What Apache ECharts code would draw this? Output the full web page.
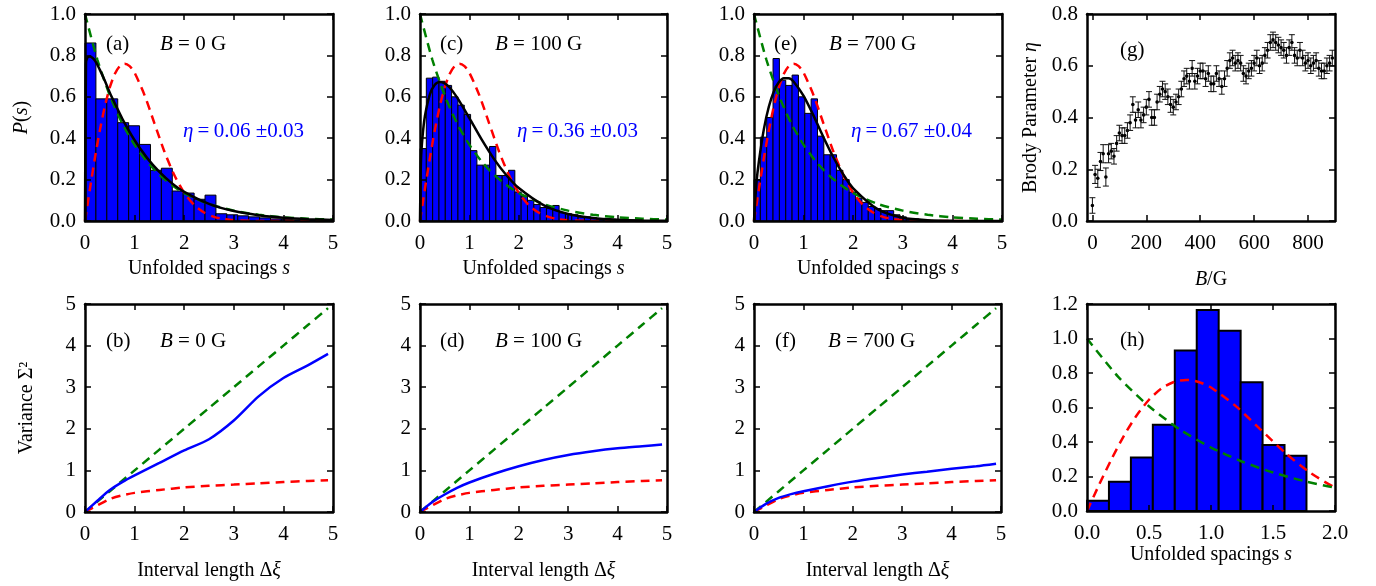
<!DOCTYPE html>
<html>
<head>
<meta charset="utf-8">
<script src="https://cdn.jsdelivr.net/npm/echarts@6/dist/echarts.min.js"></script>
<style>
html, body { margin: 0; padding: 0; background: #fff; }
#main { width: 1376px; height: 586px; }
</style>
</head>
<body>
<div id="main"></div>
<script>
// histograms of unfolded spacings (bin width, bar heights)
var binA = 0.22;
var histA = [0.86, 0.59, 0.59, 0.475, 0.46, 0.37, 0.245, 0.255, 0.145, 0.135, 0.105, 0.125,
  0.035, 0.03, 0.025, 0.02, 0.015, 0.01, 0.008, 0.005, 0.004, 0.003];
var binC = 0.128;
var histC = [0.35, 0.69, 0.695, 0.675, 0.655, 0.60, 0.56, 0.515, 0.34, 0.27, 0.27, 0.36,
  0.22, 0.22, 0.245, 0.14, 0.12, 0.10, 0.08, 0.065, 0.06, 0.075, 0.04, 0.035, 0.03, 0.02,
  0.02, 0.015, 0.01, 0.01, 0.008, 0.005, 0.005, 0.004, 0.003];
var binE = 0.128;
var histE = [0.20, 0.405, 0.50, 0.785, 0.68, 0.655, 0.705, 0.60, 0.52, 0.59, 0.41, 0.32,
  0.32, 0.245, 0.20, 0.14, 0.11, 0.09, 0.07, 0.06, 0.05, 0.05, 0.03, 0.02, 0.01, 0.01, 0.005];
var binH = 0.177;
var histH = [0.06, 0.17, 0.31, 0.50, 0.93, 1.165, 1.045, 0.746, 0.382, 0.32];

// reference curves: Poisson (green) and Wigner (red)
var sPoisson = [0, 0.25, 0.5, 0.75, 1, 1.25, 1.5, 1.75, 2, 2.5, 3, 3.5, 4, 4.5, 5];
var poisson = [1.0, 0.779, 0.607, 0.472, 0.368, 0.287, 0.223, 0.174, 0.135, 0.082, 0.050, 0.030, 0.018, 0.011, 0.007];
var sWigner = [0, 0.1, 0.2, 0.3, 0.4, 0.5, 0.6, 0.7, 0.8, 0.9, 1.0, 1.2, 1.4, 1.6, 1.8, 2.0, 2.2, 2.4, 2.6, 2.8, 3.0, 3.5, 4, 5];
var wigner = [0, 0.156, 0.304, 0.439, 0.554, 0.645, 0.710, 0.748, 0.760, 0.748, 0.716, 0.608, 0.472, 0.336, 0.222, 0.136, 0.077, 0.041, 0.020, 0.009, 0.004, 0.0003, 0, 0];

// Brody fits (black)
var sBrody = [0, 0.02, 0.05, 0.1, 0.2, 0.3, 0.4, 0.5, 0.6, 0.75, 1, 1.25, 1.5, 1.75, 2, 2.5, 3, 3.5, 4, 4.5, 5];
var brodyA = [0, 0.76, 0.79, 0.795, 0.775, 0.73, 0.677, 0.62, 0.569, 0.495, 0.39, 0.305, 0.237, 0.183, 0.141, 0.083, 0.048, 0.028, 0.016, 0.009, 0.005];
var brodyC = [0, 0.294, 0.404, 0.507, 0.612, 0.658, 0.672, 0.665, 0.645, 0.597, 0.497, 0.393, 0.299, 0.221, 0.159, 0.077, 0.034, 0.0145, 0.0057, 0.002, 0.0008];
var sBrodyE = [0, 0.05, 0.1, 0.2, 0.3, 0.4, 0.5, 0.6, 0.7, 0.8, 1.0, 1.2, 1.4, 1.6, 1.8, 2.0, 2.5, 3, 3.5, 4, 5];
var brodyE = [0, 0.185, 0.29, 0.445, 0.553, 0.626, 0.670, 0.690, 0.690, 0.673, 0.604, 0.509, 0.405, 0.308, 0.225, 0.158, 0.056, 0.016, 0.004, 0.001, 0];

// number variance vs interval length
var lenL = [0, 0.25, 0.5, 0.75, 1, 1.5, 2, 2.5, 3, 3.5, 4, 4.5, 4.9];
var varPoisson = [0, 0.25, 0.5, 0.75, 1, 1.5, 2, 2.5, 3, 3.5, 4, 4.5, 4.9];
var varGOE = [0, 0.16, 0.31, 0.40, 0.46, 0.53, 0.59, 0.63, 0.66, 0.69, 0.72, 0.745, 0.765];
var varB0 = [0, 0.27, 0.53, 0.72, 0.88, 1.18, 1.48, 1.75, 2.2, 2.78, 3.22, 3.53, 3.8];
var varB100 = [0, 0.24, 0.42, 0.58, 0.71, 0.92, 1.1, 1.25, 1.37, 1.46, 1.53, 1.58, 1.62];
var varB700 = [0, 0.2, 0.34, 0.43, 0.5, 0.62, 0.73, 0.82, 0.9, 0.97, 1.04, 1.1, 1.16];

// Brody parameter vs field
var fieldB = [0, 10, 20, 30, 40, 50, 60, 70, 80, 90, 100, 110, 120, 130, 140, 150, 160, 170, 180, 190,
  200, 210, 220, 230, 240, 250, 260, 270, 280, 290, 300, 310, 320, 330, 340, 350, 360, 370, 380, 390,
  400, 410, 420, 430, 440, 450, 460, 470, 480, 490, 500, 510, 520, 530, 540, 550, 560, 570, 580, 590,
  600, 610, 620, 630, 640, 650, 660, 670, 680, 690, 700, 710, 720, 730, 740, 750, 760, 770, 780, 790,
  800, 810, 820, 830, 840, 850, 860, 870, 880, 890];
var eta = [0.06, 0.18, 0.165, 0.23, 0.26, 0.17, 0.26, 0.27, 0.25, 0.30,
  0.34, 0.33, 0.33, 0.35, 0.38, 0.45, 0.39, 0.43, 0.39, 0.41,
  0.44, 0.47, 0.40, 0.40, 0.46, 0.49, 0.51, 0.50, 0.48, 0.45,
  0.44, 0.46, 0.48, 0.51, 0.55, 0.56, 0.54, 0.59, 0.54, 0.56,
  0.58, 0.58, 0.55, 0.57, 0.53, 0.53, 0.57, 0.55, 0.52, 0.55,
  0.59, 0.62, 0.63, 0.61, 0.62, 0.61, 0.57, 0.56, 0.58, 0.59,
  0.61, 0.63, 0.60, 0.61, 0.64, 0.66, 0.69, 0.70, 0.69, 0.68,
  0.67, 0.66, 0.64, 0.67, 0.69, 0.64, 0.63, 0.66, 0.63, 0.61,
  0.62, 0.60, 0.61, 0.62, 0.59, 0.58, 0.58, 0.60, 0.61, 0.63];
var etaErr = [0.03, 0.035, 0.035, 0.035, 0.035, 0.035, 0.035, 0.03, 0.03, 0.03,
  0.03, 0.03, 0.03, 0.03, 0.03, 0.03, 0.03, 0.03, 0.03, 0.03,
  0.03, 0.03, 0.03, 0.03, 0.03, 0.03, 0.03, 0.03, 0.03, 0.03,
  0.03, 0.03, 0.03, 0.03, 0.03, 0.03, 0.03, 0.03, 0.03, 0.03,
  0.03, 0.03, 0.03, 0.03, 0.03, 0.03, 0.03, 0.03, 0.03, 0.03,
  0.03, 0.03, 0.03, 0.03, 0.03, 0.03, 0.03, 0.03, 0.03, 0.03,
  0.03, 0.03, 0.03, 0.03, 0.03, 0.03, 0.03, 0.03, 0.03, 0.03,
  0.03, 0.03, 0.03, 0.03, 0.03, 0.03, 0.03, 0.03, 0.03, 0.03,
  0.03, 0.03, 0.03, 0.03, 0.03, 0.03, 0.03, 0.03, 0.03, 0.03];

var FONT = 'Liberation Serif';
var TICK = 21, NAME = 20, NOTE = 21;
var BLUE = '#0000ff', GREEN = '#008000', RED = '#ff0000';

var grids = [], xAxes = [], yAxes = [], series = [], notes = [];

function richName() {
  return {
    color: '#000', fontFamily: FONT, fontSize: NAME,
    rich: { i: { fontStyle: 'italic', fontFamily: FONT, fontSize: NAME, color: '#000' } }
  };
}

function axis(g, a, pos, main) {
  var horiz = pos === 'bottom' || pos === 'top';
  var o = {
    type: 'value', gridIndex: g, position: pos, min: a.min, max: a.max, z: 5,
    axisLine: { show: true, onZero: false, lineStyle: { color: '#000', width: 2.5 } },
    axisTick: { show: true, inside: true, length: 6, lineStyle: { color: '#000', width: 1.5 } },
    axisLabel: { show: main, color: '#000', fontFamily: FONT, fontSize: TICK, margin: horiz ? 12 : 9, formatter: a.fmt },
    splitLine: { show: false }
  };
  if (a.ticks) {
    o.axisTick.customValues = a.ticks;
    o.axisLabel.customValues = a.ticks;
  } else {
    o.interval = a.interval;
  }
  if (main && a.name) {
    o.name = a.name;
    o.nameLocation = 'middle';
    o.nameGap = a.gap;
    o.nameTextStyle = richName();
  }
  return o;
}

function addPanel(r, xa, ya) {
  var g = grids.length;
  grids.push({ left: r[0], top: r[1], width: r[2], height: r[3] });
  xAxes.push(axis(g, xa, 'bottom', true));
  xAxes.push(axis(g, xa, 'top', false));
  yAxes.push(axis(g, ya, 'left', true));
  yAxes.push(axis(g, ya, 'right', false));
  return g;
}

function pairs(xs, ys) {
  return xs.map(function (x, i) { return [x, ys[i]]; });
}

function curve(g, xs, ys, color, dashed, width) {
  series.push({
    type: 'line', xAxisIndex: 2 * g, yAxisIndex: 2 * g, data: pairs(xs, ys),
    showSymbol: false, smooth: 0.25, silent: true, z: 3,
    lineStyle: { color: color, width: width || 2.5, type: dashed ? [9, 6] : 'solid' }
  });
}

function hist(g, bin, heights, lw) {
  series.push({
    type: 'custom', xAxisIndex: 2 * g, yAxisIndex: 2 * g, silent: true, z: 2,
    data: heights.map(function (h, i) { return [i * bin, (i + 1) * bin, h]; }),
    encode: { x: [0, 1], y: 2 },
    renderItem: function (params, api) {
      var p0 = api.coord([api.value(0), api.value(2)]);
      var p1 = api.coord([api.value(1), 0]);
      return {
        type: 'rect',
        shape: { x: p0[0], y: p0[1], width: p1[0] - p0[0], height: p1[1] - p0[1] },
        style: { fill: BLUE, stroke: '#000', lineWidth: lw }
      };
    }
  });
}

function note(x, y, text, color) {
  notes.push({
    type: 'text', x: x, y: y, z: 10,
    style: {
      text: text, fill: color || '#000', fontFamily: FONT, fontSize: NOTE, verticalAlign: 'middle',
      rich: { i: { fontStyle: 'italic', fontFamily: FONT, fontSize: NOTE, fill: color || '#000' } }
    }
  });
}

var f1 = function (v) { return v.toFixed(1); };
var f0 = function (v) { return String(v); };

var sX = { min: 0, max: 5, interval: 1, fmt: f0, name: 'Unfolded spacings {i|s}', gap: 38 };
var pY = { min: 0, max: 1, interval: 0.2, fmt: f1 };
var lX = { min: 0, max: 5, interval: 1, fmt: f0, name: 'Interval length Δ{i|ξ}', gap: 49 };
var vY = { min: 0, max: 5, interval: 1, fmt: f0 };

// top row: spacing distributions
var gA = addPanel([85, 14, 248, 207], sX,
  { min: 0, max: 1, interval: 0.2, fmt: f1, name: '{i|P}({i|s})', gap: 53 });
var gC = addPanel([420, 14, 247, 207], sX, pY);
var gE = addPanel([754, 14, 248, 207], sX, pY);
var gG = addPanel([1087, 14, 248, 207],
  { min: -20, max: 900, ticks: [0, 200, 400, 600, 800], fmt: f0, name: '{i|B}/G', gap: 49 },
  { min: 0, max: 0.8, interval: 0.2, fmt: f1, name: 'Brody Parameter {i|η}', gap: 46 });

// bottom row: number variance and ensemble histogram
var gB = addPanel([85, 304, 248, 208], lX,
  { min: 0, max: 5, interval: 1, fmt: f0, name: 'Variance Σ²', gap: 48 });
var gD = addPanel([420, 304, 247, 208], lX, vY);
var gF = addPanel([754, 304, 247, 208], lX, vY);
var gH = addPanel([1087, 304, 248, 207],
  { min: 0, max: 2, interval: 0.5, fmt: f1, name: 'Unfolded spacings {i|s}', gap: 32 },
  { min: 0, max: 1.2, interval: 0.2, fmt: f1 });

hist(gA, binA, histA, 1);
curve(gA, sWigner, wigner, RED, true);
curve(gA, sPoisson, poisson, GREEN, true);
curve(gA, sBrody, brodyA, '#000', false);

hist(gC, binC, histC, 1);
curve(gC, sWigner, wigner, RED, true);
curve(gC, sPoisson, poisson, GREEN, true);
curve(gC, sBrody, brodyC, '#000', false);

hist(gE, binE, histE, 1);
curve(gE, sWigner, wigner, RED, true);
curve(gE, sPoisson, poisson, GREEN, true);
curve(gE, sBrodyE, brodyE, '#000', false);

series.push({
  type: 'custom', xAxisIndex: 2 * gG, yAxisIndex: 2 * gG, silent: true, z: 3,
  data: fieldB.map(function (b, i) { return [b, eta[i], etaErr[i]]; }),
  encode: { x: 0, y: 1 },
  renderItem: function (params, api) {
    var x = api.value(0), y = api.value(1), e = api.value(2);
    var hi = api.coord([x, y + e]), lo = api.coord([x, y - e]), c = api.coord([x, y]);
    var st = { stroke: '#111', lineWidth: 1 };
    return {
      type: 'group', children: [
        { type: 'line', shape: { x1: hi[0], y1: hi[1], x2: lo[0], y2: lo[1] }, style: st },
        { type: 'line', shape: { x1: hi[0] - 3, y1: hi[1], x2: hi[0] + 3, y2: hi[1] }, style: st },
        { type: 'line', shape: { x1: lo[0] - 3, y1: lo[1], x2: lo[0] + 3, y2: lo[1] }, style: st },
        { type: 'circle', shape: { cx: c[0], cy: c[1], r: 1.8 }, style: { fill: '#000' } }
      ]
    };
  }
});

curve(gB, lenL, varPoisson, GREEN, true);
curve(gB, lenL, varGOE, RED, true);
curve(gB, lenL, varB0, BLUE, false, 2.5);
curve(gD, lenL, varPoisson, GREEN, true);
curve(gD, lenL, varGOE, RED, true);
curve(gD, lenL, varB100, BLUE, false, 2.5);
curve(gF, lenL, varPoisson, GREEN, true);
curve(gF, lenL, varGOE, RED, true);
curve(gF, lenL, varB700, BLUE, false, 2.5);

hist(gH, binH, histH, 2);
curve(gH, sWigner, wigner, RED, true);
curve(gH, sPoisson, poisson, GREEN, true);

note(106, 44, '(a)'); note(160, 44, '{i|B} = 0 G');
note(440, 44, '(c)'); note(495, 44, '{i|B} = 100 G');
note(774, 44, '(e)'); note(829, 44, '{i|B} = 700 G');
note(1120, 50, '(g)');
note(106, 341, '(b)'); note(160, 341, '{i|B} = 0 G');
note(440, 341, '(d)'); note(495, 341, '{i|B} = 100 G');
note(775, 341, '(f)'); note(828, 341, '{i|B} = 700 G');
note(1120, 340, '(h)');
note(183, 131, '{i|η}\u2009=\u20090.06 ±0.03', BLUE);
note(517, 131, '{i|η}\u2009=\u20090.36 ±0.03', BLUE);
note(851, 131, '{i|η}\u2009=\u20090.67 ±0.04', BLUE);

var chart = echarts.init(document.getElementById('main'));
chart.setOption({
  animation: false,
  backgroundColor: '#fff',
  grid: grids,
  xAxis: xAxes,
  yAxis: yAxes,
  series: series,
  graphic: notes
});
</script>
</body>
</html>
